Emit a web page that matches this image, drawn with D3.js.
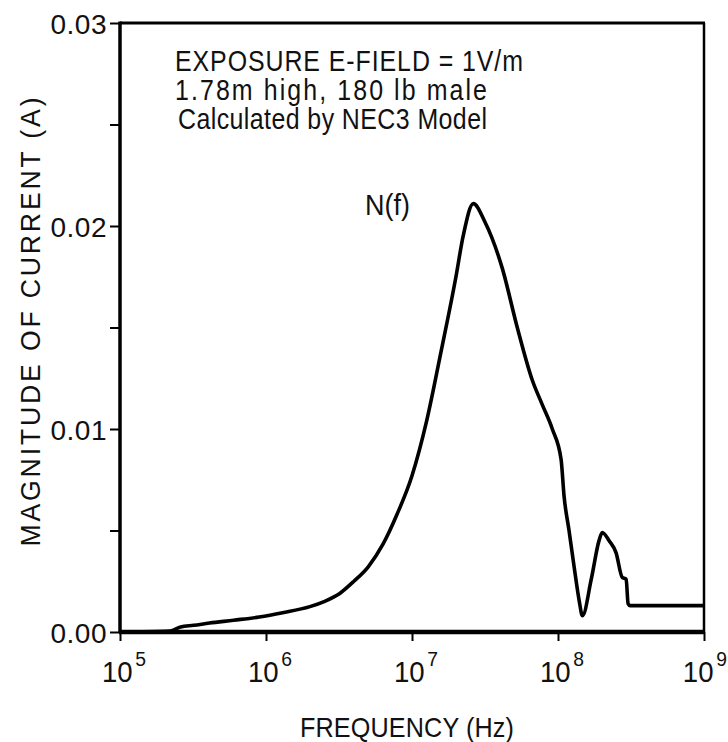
<!DOCTYPE html>
<html>
<head>
<meta charset="utf-8">
<script src="https://cdn.jsdelivr.net/npm/d3@7"></script>
<style>
  body { margin: 0; background: #fff; }
  text { font-family: "Liberation Sans", Arial, sans-serif; fill: #111; }
</style>
</head>
<body>
<div id="chart"></div>
<script>
// Induced current vs frequency, NEC3 model

// Curve
const freqHz = [1e5, 2.2e5, 2.6e5, 3.2e5, 4.1e5, 6e5, 9e5, 1.3e6, 2.0e6, 2.5e6, 3.2e6, 4.0e6,
  5.0e6, 6.3e6, 7.9e6, 1.0e7, 1.26e7, 1.58e7, 2.0e7, 2.24e7, 2.63e7, 3.16e7, 4.16e7,
  5.26e7, 6.67e7, 7.8e7, 9.14e7, 1.05e8, 1.10e8, 1.19e8, 1.29e8, 1.40e8, 1.47e8,
  1.69e8, 1.91e8, 2.01e8, 2.24e8, 2.50e8, 2.75e8, 2.93e8, 3.02e8, 3.12e8, 1e9];
const currentA = [0, 0.00005, 0.00025, 0.00033, 0.00044, 0.00058, 0.00074, 0.00095, 0.00125, 0.0015, 0.0019, 0.0025,
  0.0032, 0.0043, 0.0058, 0.0077, 0.0104, 0.0138, 0.0175, 0.0195, 0.0211, 0.0202, 0.0179,
  0.0150, 0.0124, 0.0112, 0.0100, 0.0085, 0.0067, 0.0050, 0.0032, 0.0015, 0.0008,
  0.0026, 0.0045, 0.0049, 0.0045, 0.0039, 0.0027, 0.0026, 0.0014, 0.0013, 0.0013];

const yTicks = [0, 0.005, 0.01, 0.015, 0.02, 0.025, 0.03];
const yLabeled = [0, 0.01, 0.02, 0.03];
const xTicks = [1e5, 1e6, 1e7, 1e8, 1e9];

const notes = ["EXPOSURE  E-FIELD  =  1V/m", "1.78m  high,  180  lb  male", "Calculated  by  NEC3  Model"];

const width = 728, height = 742;
const x0 = 120, x1 = 704, yTop = 23, yBot = 632;

const svg = d3.select("#chart").append("svg")
  .attr("width", width)
  .attr("height", height);

const x = d3.scaleLog().domain([1e5, 1e9]).range([x0, x1]);
const y = d3.scaleLinear().domain([0, 0.03]).range([yBot, yTop]);

// narrow-looking text: squeeze glyphs horizontally, keep the overall length
function narrowText(parent, o) {
  const t = parent.append("text")
    .attr("transform", `translate(${o.x},${o.y})${o.rot ? " rotate(" + o.rot + ")" : ""} scale(${o.sx},1)`)
    .attr("font-size", o.size)
    .attr("text-anchor", o.anchor || "start")
    .text(o.text);
  if (o.len) t.attr("textLength", o.len / o.sx).attr("lengthAdjust", "spacing");
  return t;
}

// frame: top and right
svg.append("line")
  .attr("x1", x0).attr("x2", x1 + 1).attr("y1", yTop).attr("y2", yTop)
  .attr("stroke", "#000").attr("stroke-width", 3);
svg.append("line")
  .attr("x1", x1).attr("x2", x1).attr("y1", yTop).attr("y2", yBot)
  .attr("stroke", "#000").attr("stroke-width", 2.5);

// left axis
const yAxis = svg.append("g")
  .attr("transform", `translate(${x0},0)`)
  .call(d3.axisLeft(y).tickValues(yTicks).tickSize(10).tickPadding(3)
    .tickFormat(d => yLabeled.includes(d) ? d3.format(".2f")(d) : ""));
yAxis.select(".domain").attr("stroke-width", 3.5).attr("d", `M0,${yTop - 1.5}V${yBot}`);
yAxis.selectAll(".tick line").attr("stroke-width", 2);
yAxis.selectAll(".tick text")
  .attr("font-size", 28)
  .attr("dy", "0.36em")
  .attr("font-family", "'Liberation Sans', Arial, sans-serif")
  .attr("letter-spacing", 0.5);

// bottom axis
const xAxis = svg.append("g")
  .attr("transform", `translate(0,${yBot})`)
  .call(d3.axisBottom(x).tickValues(xTicks).tickSize(9).tickFormat(""));
xAxis.select(".domain").attr("stroke-width", 4.5).attr("d", `M${x0 - 1},0H${x1 + 1}`);
xAxis.selectAll(".tick line").attr("stroke-width", 2);

// decade labels 10^n
const xl = svg.append("g");
xTicks.forEach((v, i) => {
  const last = i === xTicks.length - 1;
  const t = xl.append("text")
    .attr("transform", `translate(${last ? 727 : x(v) + 4},${yBot + 50}) scale(0.92,1)`)
    .attr("text-anchor", last ? "end" : "middle")
    .attr("font-size", 30);
  t.append("tspan").text("10");
  t.append("tspan")
    .attr("font-size", 21)
    .attr("dx", 3)
    .attr("dy", -16)
    .text(Math.round(Math.log10(v)));
});

// axis titles
narrowText(svg, { x: 40, y: 322, rot: -90, sx: 0.95, size: 28, anchor: "middle", len: 449,
  text: "MAGNITUDE  OF  CURRENT  (A)" });
narrowText(svg, { x: 407, y: 737, sx: 0.9, size: 28, anchor: "middle", len: 214,
  text: "FREQUENCY  (Hz)" });

// annotation
const noteX = [175, 175, 178];
const noteW = [348, 312, 309];
notes.forEach((d, i) => {
  narrowText(svg, { x: noteX[i], y: 71 + i * 29, sx: 0.86, size: 29, len: noteW[i], text: d });
});

narrowText(svg, { x: 365, y: 215, sx: 0.9, size: 30, text: "N(f)" });

// the curve
const line = d3.line()
  .x(d => x(d[0]))
  .y(d => y(d[1]))
  .curve(d3.curveMonotoneX);

svg.append("path")
  .datum(d3.zip(freqHz, currentA))
  .attr("fill", "none")
  .attr("stroke", "#000")
  .attr("stroke-width", 3.6)
  .attr("stroke-linejoin", "round")
  .attr("d", line);
</script>
</body>
</html>
